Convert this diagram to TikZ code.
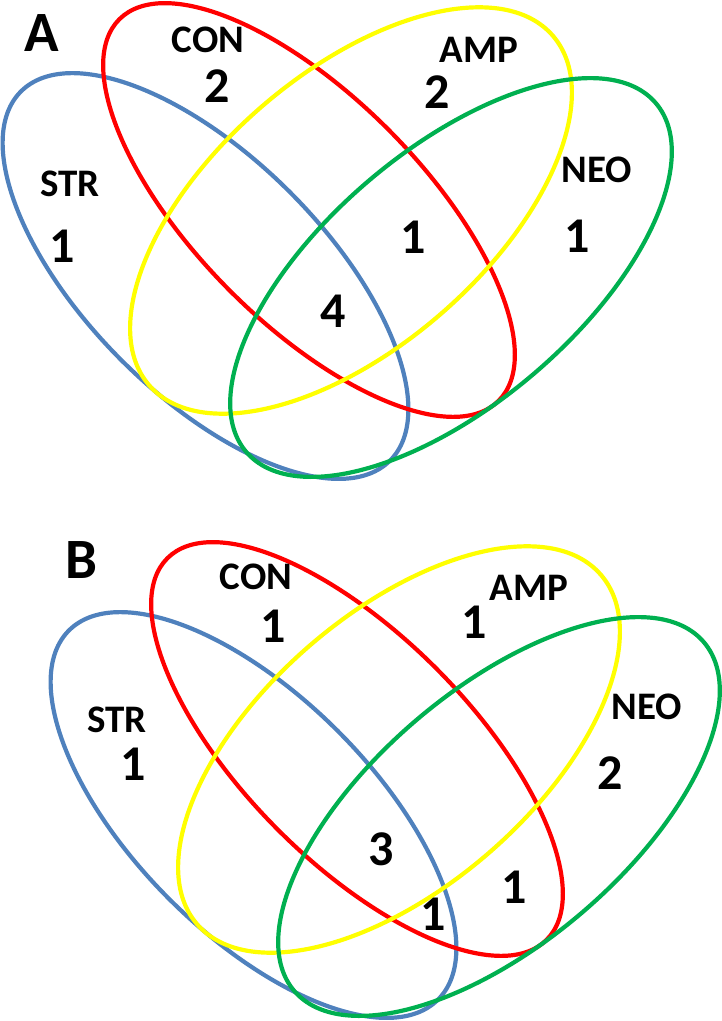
\documentclass[tikz,border=0pt]{standalone}
\usepackage{fontspec}
\setmainfont{Carlito}
\definecolor{strblue}{RGB}{79,129,189}
\definecolor{conred}{RGB}{255,0,0}
\definecolor{ampyellow}{RGB}{255,255,0}
\definecolor{neogreen}{RGB}{0,176,80}
\tikzset{
  venn/.style={line width=4.2pt},
  setname/.style={font=\fontsize{39}{40}\selectfont\bfseries, inner sep=0pt},
  count/.style={font=\fontsize{50}{52}\selectfont\bfseries, inner sep=0pt},
  panel/.style={font=\fontsize{57}{60}\selectfont\bfseries, inner sep=0pt}
}
\begin{document}
\begin{tikzpicture}[x=1pt,y=-1pt]
\useasboundingbox (0,0) rectangle (721,1021);
% panel A
\draw[venn, strblue, rotate around={-45:(205.5,276)}] (205.5,276) ellipse (261 and 119);
\draw[venn, conred, rotate around={-45.2:(309,210)}] (309,210) ellipse (269 and 113);
\draw[venn, ampyellow, rotate around={40.9:(351,210.5)}] (351,210.5) ellipse (267 and 137);
\draw[venn, neogreen, rotate around={40.4:(451,277.5)}] (451,277.5) ellipse (269 and 127);
\node[panel] (pa) at (42,33) {A};
\node[setname] (strA) at (70,184) {STR};
\node[setname] (conA) at (208,40) {CON};
\node[setname] (ampA) at (479,50) {AMP};
\node[setname] (neoA) at (597,170) {NEO};
\node[count] (a1) at (62,246) {1};
\node[count] (a2) at (217,86) {2};
\node[count] (a3) at (437,92) {2};
\node[count] (a4) at (413,237) {1};
\node[count] (a5) at (577,236) {1};
\node[count] (a6) at (333,311) {4};
% panel B
\begin{scope}[shift={(48,539)}]
\draw[venn, strblue, rotate around={-45:(205.5,276)}] (205.5,276) ellipse (261 and 119);
\draw[venn, conred, rotate around={-45.2:(309,210)}] (309,210) ellipse (269 and 113);
\draw[venn, ampyellow, rotate around={40.9:(351,210.5)}] (351,210.5) ellipse (267 and 137);
\draw[venn, neogreen, rotate around={40.4:(451,277.5)}] (451,277.5) ellipse (269 and 127);
\end{scope}
\node[panel] (pb) at (81,560) {B};
\node[setname] (strB) at (117,720) {STR};
\node[setname] (conB) at (256,577) {CON};
\node[setname] (ampB) at (529,588) {AMP};
\node[setname] (neoB) at (647,707) {NEO};
\node[count] (b1) at (133,764) {1};
\node[count] (b2) at (273,626) {1};
\node[count] (b3) at (474,622) {1};
\node[count] (b4) at (610,773) {2};
\node[count] (b5) at (381,849) {3};
\node[count] (b6) at (514,887) {1};
\node[count] (b7) at (433,914) {1};
\end{tikzpicture}
\end{document}
